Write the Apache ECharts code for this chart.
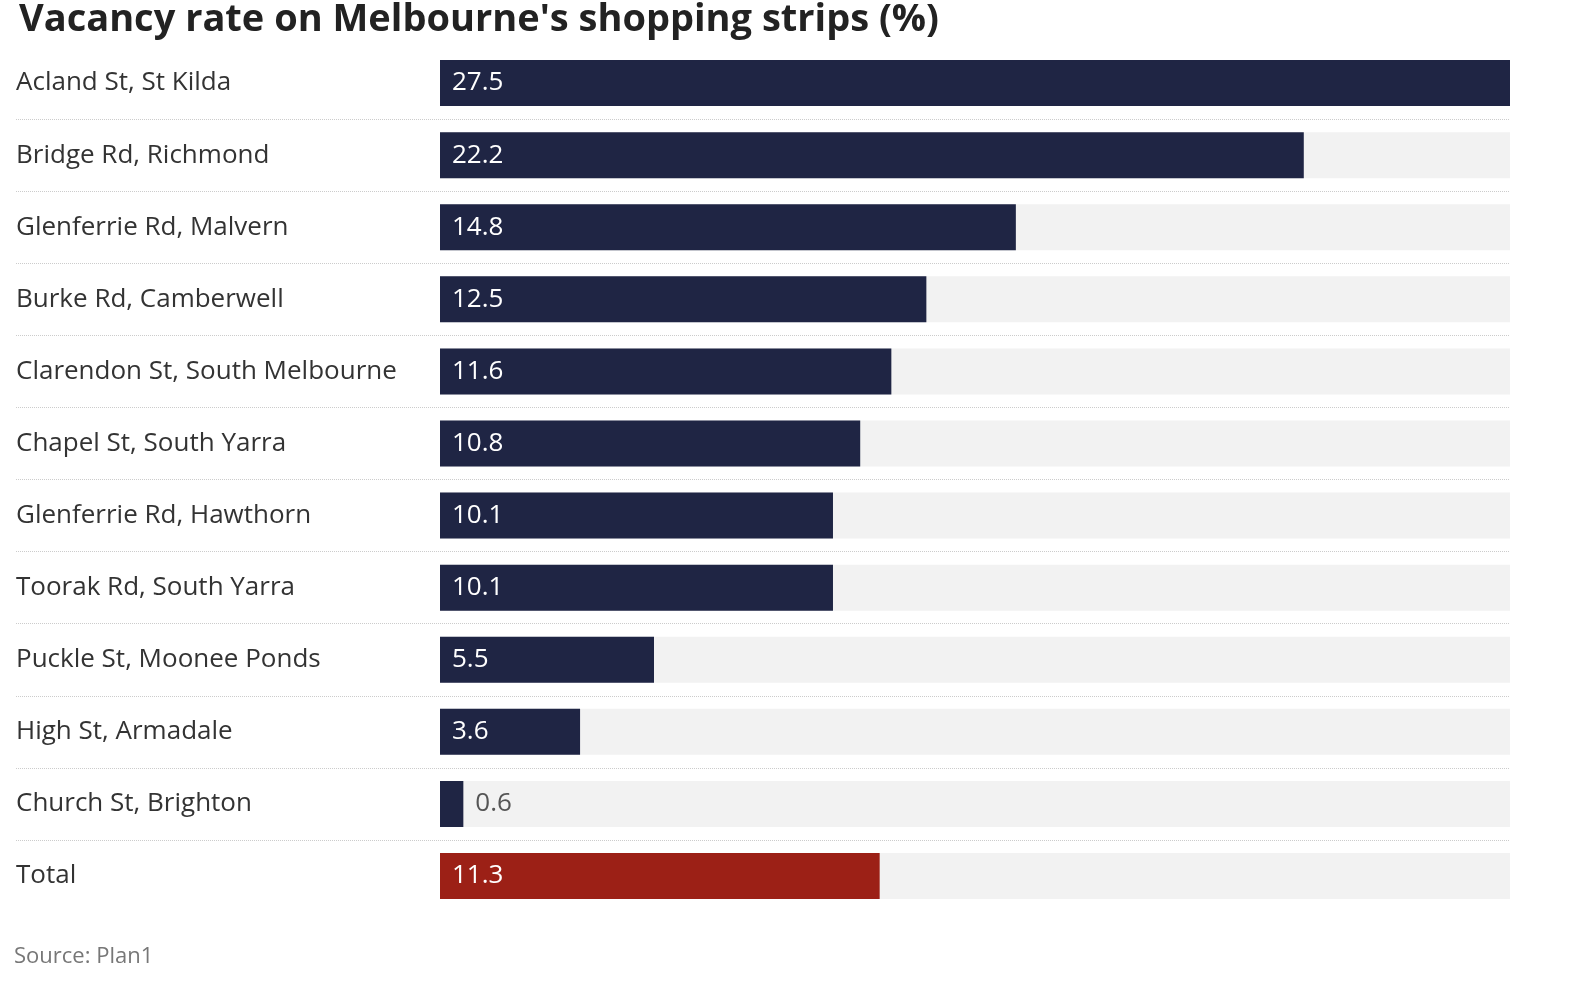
<!DOCTYPE html>
<html>
<head>
<meta charset="utf-8">
<title>Vacancy rate</title>
<style>
  html, body { margin: 0; padding: 0; background: #fff; }
  #chart { width: 1573px; height: 1000px; }
</style>
</head>
<body>
<div id="chart"></div>
<script src="https://cdn.jsdelivr.net/npm/echarts@6/dist/echarts.min.js"></script>
<script>
var streets = ['Acland St, St Kilda', 'Bridge Rd, Richmond', 'Glenferrie Rd, Malvern', 'Burke Rd, Camberwell',
  'Clarendon St, South Melbourne', 'Chapel St, South Yarra', 'Glenferrie Rd, Hawthorn', 'Toorak Rd, South Yarra',
  'Puckle St, Moonee Ponds', 'High St, Armadale', 'Church St, Brighton', 'Total'];
var vacancy = [27.5, 22.2, 14.8, 12.5, 11.6, 10.8, 10.1, 10.1, 5.5, 3.6, 0.6, 11.3];
var sepRows = ['a', 'b', 'c', 'd', 'e', 'f', 'g', 'h', 'i', 'j'];

var font = '"Open Sans", "Noto Sans", sans-serif';
var myChart = echarts.init(document.getElementById('chart'));

var barData = vacancy.map(function (v, i) {
  var item = { value: v, itemStyle: { color: streets[i] == 'Total' ? '#9c2016' : '#1f2544' } };
  if (v < 2) {
    item.label = { position: 'right', color: '#555', distance: 12 };
  }
  return item;
});

var option = {
  animation: false,
  title: {
    text: "Vacancy rate on Melbourne's shopping strips (%)",
    left: 14, top: -4,
    textStyle: { fontFamily: font, fontSize: 38, fontWeight: 'bold', color: '#222' }
  },
  graphic: [{
    type: 'text', left: 14, top: 946,
    style: { text: 'Source: Plan1', fontFamily: font, fontSize: 22, fill: '#777' }
  }],
  grid: [
    { left: 440, right: 63, top: 47, bottom: 88 },
    // separators between rows
    { left: 16, right: 63, top: 119, bottom: 160 }
  ],
  xAxis: [
    { gridIndex: 0, type: 'value', min: 0, max: 27.5, show: false },
    { gridIndex: 1, type: 'value', show: false }
  ],
  yAxis: [
    {
      gridIndex: 0, type: 'category', inverse: true, data: streets,
      axisLine: { show: false }, axisTick: { show: false },
      axisLabel: { align: 'left', margin: 424, fontFamily: font, fontSize: 26, color: '#333' }
    },
    {
      gridIndex: 1, type: 'category', data: sepRows,
      axisLine: { show: false }, axisTick: { show: false }, axisLabel: { show: false },
      splitLine: { show: true, lineStyle: { type: 'dotted', color: '#ccc', width: 1 } }
    }
  ],
  series: [{
    type: 'bar',
    xAxisIndex: 0, yAxisIndex: 0,
    barWidth: 46,
    data: barData,
    showBackground: true,
    backgroundStyle: { color: '#f2f2f2' },
    label: {
      show: true, position: 'insideLeft', distance: 12,
      color: '#fff', fontFamily: font, fontSize: 26
    }
  }]
};
myChart.setOption(option);
</script>
</body>
</html>
